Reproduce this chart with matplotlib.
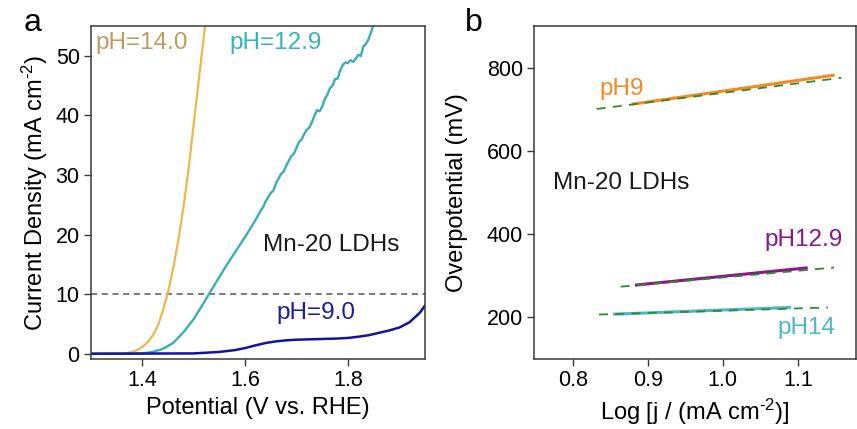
import numpy as np
import matplotlib.pyplot as plt

plt.rcParams['font.family'] = ['Liberation Sans', 'DejaVu Sans']
plt.rcParams['mathtext.fontset'] = 'custom'
plt.rcParams['mathtext.rm'] = 'Liberation Sans'
plt.rcParams['mathtext.it'] = 'Liberation Sans'

# panel a: LSV curves (V vs. RHE, mA cm-2)
ph14_v = [1.30, 1.36, 1.37, 1.38, 1.39, 1.40, 1.41, 1.42, 1.43, 1.44, 1.45, 1.46,
          1.47, 1.48, 1.49, 1.50, 1.51, 1.52, 1.525]
ph14_j = [0.0, 0.0, 0.1, 0.3, 0.6, 1.1, 1.9, 3.0, 4.6, 7.2, 10.3, 14.3,
          19.0, 24.5, 31.0, 38.5, 46.0, 53.5, 57.0]

ph129_v = [1.30, 1.35, 1.40, 1.42, 1.44, 1.46, 1.48, 1.50, 1.52, 1.54, 1.56, 1.58,
           1.60, 1.61, 1.62, 1.63, 1.635, 1.64, 1.65, 1.655, 1.66, 1.67,
           1.675, 1.68, 1.69, 1.695, 1.70, 1.705,
           1.71, 1.715, 1.72, 1.725, 1.73, 1.735, 1.74, 1.745, 1.75, 1.755, 1.76,
           1.765, 1.77, 1.775, 1.78, 1.785, 1.79, 1.795, 1.80, 1.805, 1.81, 1.815,
           1.82, 1.825, 1.83, 1.835, 1.84, 1.845, 1.85, 1.86]
ph129_j = [0.0, 0.0, 0.05, 0.3, 0.8, 1.8, 3.6, 5.8, 8.6, 11.5, 14.3, 17.0,
           19.6, 21.0, 22.4, 24.0, 24.6, 25.6, 27.0, 27.4, 28.6, 30.2,
           30.6, 31.6, 33.2, 33.6, 34.6, 35.6,
           36.0, 36.9, 37.6, 38.0, 38.9, 40.0, 40.9, 40.7, 41.5, 42.8, 43.5,
           44.6, 45.0, 46.1, 46.2, 47.6, 48.5, 48.9, 48.8, 49.3, 49.0, 49.5,
           50.2, 50.0, 51.6, 52.0, 52.8, 54.0, 55.3, 55.6]

ph9_v = [1.30, 1.50, 1.55, 1.58, 1.60, 1.62, 1.64, 1.66, 1.68, 1.70, 1.74, 1.78,
         1.80, 1.82, 1.84, 1.86, 1.88, 1.90, 1.92, 1.94, 1.95]
ph9_j = [0.0, 0.05, 0.3, 0.6, 0.95, 1.4, 1.8, 2.07, 2.25, 2.35, 2.45, 2.55,
         2.65, 2.85, 3.1, 3.5, 3.9, 4.4, 5.3, 6.9, 8.1]

# panel b: Tafel lines, [start, end] of data and of fit
tafel_ph9_x = [0.881, 1.147]
tafel_ph9_y = [713, 782]
fit_ph9_x = [0.832, 1.158]
fit_ph9_y = [701, 776]

tafel_ph129_x = [0.885, 1.111]
tafel_ph129_y = [278, 319]
fit_ph129_x = [0.864, 1.148]
fit_ph129_y = [274, 320]

tafel_ph14_x = [0.856, 1.089]
tafel_ph14_y = [208, 224]
fit_ph14_x = [0.835, 1.140]
fit_ph14_y = [207, 224]

fig = plt.figure(figsize=(8.57, 4.29), dpi=100)
ax1 = fig.add_axes([0.106, 0.163, 0.390, 0.776])
ax2 = fig.add_axes([0.6235, 0.163, 0.375, 0.776])

spine_c = '#3a3a3a'
for ax in (ax1, ax2):
    for s in ax.spines.values():
        s.set_color(spine_c)
        s.set_linewidth(1.1)
    ax.tick_params(direction='out', length=5, width=1.0, color=spine_c,
                   labelsize=15.5, top=False, right=False, pad=3)

# --- panel a
ax1.axhline(10, color='#555555', lw=1.1, ls=(0, (4, 3)))
ax1.plot(ph14_v, ph14_j, color='#EDB84A', lw=1.6)
ax1.plot(ph129_v, ph129_j, color='#3AAEB6', lw=1.7)
ax1.plot(ph9_v, ph9_j, color='#14149A', lw=1.8)
ax1.set_xlim(1.30, 1.95)
ax1.set_ylim(-0.9, 55)
ax1.set_xticks([1.4, 1.6, 1.8])
ax1.set_yticks([0, 10, 20, 30, 40, 50])
ax1.set_xlabel('Potential (V vs. RHE)', fontsize=17, labelpad=4)
ax1.set_ylabel(r'Current Density (mA cm$^{\text{-}2}$)', fontsize=17, labelpad=4)
ax1.text(1.308, 52.1, 'pH=14.0', color='#B5A060', fontsize=17.5, va='center')
ax1.text(1.5695, 52.1, 'pH=12.9', color='#36B4BC', fontsize=17.5, va='center')
ax1.text(1.634, 18.3, 'Mn-20 LDHs', color='#1a1a1a', fontsize=17.5, va='center')
ax1.text(1.66, 6.9, 'pH=9.0', color='#1C1CA0', fontsize=17.5, va='center')
fig.text(0.028, 0.947, 'a', fontsize=23, va='center')

# --- panel b
ax2.plot(tafel_ph9_x, tafel_ph9_y, color='#F7871F', lw=2.2)
ax2.plot(tafel_ph129_x, tafel_ph129_y, color='#8A168A', lw=2.2)
ax2.plot(tafel_ph14_x, tafel_ph14_y, color='#4DB6CA', lw=2.2)
for fx, fy in ((fit_ph9_x, fit_ph9_y), (fit_ph129_x, fit_ph129_y),
               (fit_ph14_x, fit_ph14_y)):
    ax2.plot(fx, fy, color='#2E8B2E', lw=1.3, ls=(0, (5, 4)))
ax2.set_xlim(0.749, 1.177)
ax2.set_ylim(100, 900)
ax2.set_xticks([0.8, 0.9, 1.0, 1.1])
ax2.set_xticklabels(['0.8', '0.9', '1.0', '1.1'])
ax2.set_yticks([200, 400, 600, 800])
ax2.set_xlabel(r'Log [j / (mA cm$^{\text{-}2}$)]', fontsize=17, labelpad=4)
ax2.set_ylabel('Overpotential (mV)', fontsize=17)
ax2.yaxis.set_label_coords(-0.205, 0.5)
ax2.text(0.836, 748, 'pH9', color='#F7871F', fontsize=17.5, va='center')
ax2.text(0.774, 524, 'Mn-20 LDHs', color='#1a1a1a', fontsize=17.5, va='center')
ax2.text(1.056, 386, 'pH12.9', color='#8A168A', fontsize=17.5, va='center')
ax2.text(1.073, 174, 'pH14', color='#4DB6CA', fontsize=17.5, va='center')
fig.text(0.543, 0.947, 'b', fontsize=23, va='center')

fig.savefig('out.png', dpi=100)
